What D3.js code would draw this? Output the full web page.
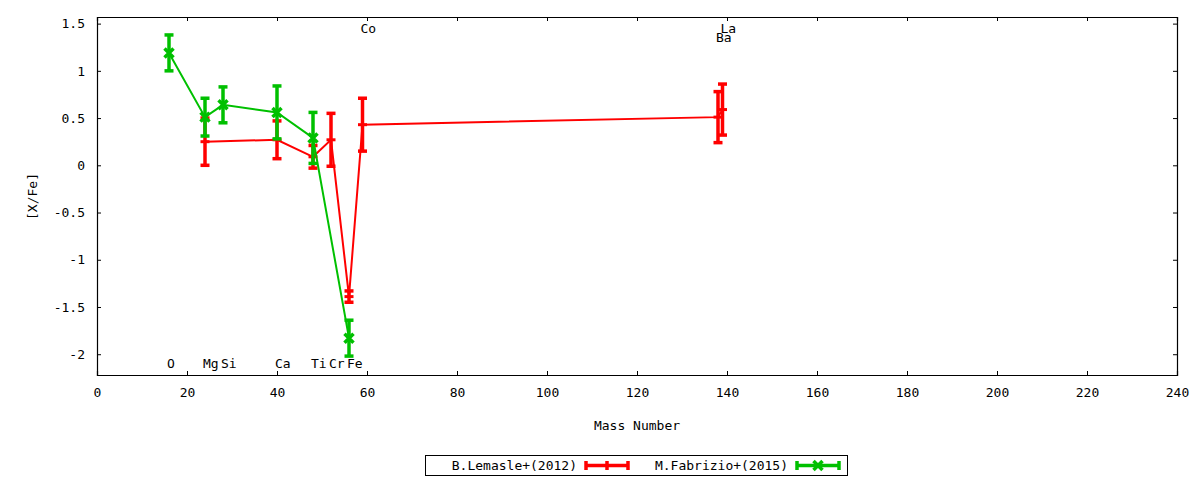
<!DOCTYPE html>
<html>
<head>
<meta charset="utf-8">
<script src="https://cdn.jsdelivr.net/npm/d3@7"></script>
<style>
  body { margin: 0; background: #fff; }
  text { font-family: "DejaVu Sans Mono", monospace; font-size: 13px; fill: #000; }
</style>
</head>
<body>
<svg id="chart"></svg>
<script>
// element labels along the plot
const elements = ["O", "Mg", "Si", "Ca", "Ti", "Cr", "Fe", "Co", "Ba", "La"];
const massNumbers = [16, 24, 28, 40, 48, 52, 56, 59, 138, 139];
const labelY = [-2.1, -2.1, -2.1, -2.1, -2.1, -2.1, -2.1, 1.45, 1.35, 1.45];

// B.Lemasle+(2012)
const lemasleElems = ["Mg", "Ca", "Ti", "Cr", "Fe", "Co", "Ba", "La"];
const lemasleVals = [0.25, 0.27, 0.09, 0.27, -1.39, 0.43, 0.51, 0.59];
const lemasleErrs = [0.25, 0.2, 0.12, 0.28, 0.06, 0.28, 0.27, 0.27];

// M.Fabrizio+(2015)
const fabrizioElems = ["O", "Mg", "Si", "Ca", "Ti", "Fe"];
const fabrizioVals = [1.19, 0.51, 0.64, 0.56, 0.29, -1.83];
const fabrizioErrs = [0.19, 0.2, 0.19, 0.28, 0.27, 0.19];

const xTicks = [0, 20, 40, 60, 80, 100, 120, 140, 160, 180, 200, 220, 240];
const yTicks = [-2, -1.5, -1, -0.5, 0, 0.5, 1, 1.5];

function mass(el) {
    return massNumbers[elements.indexOf(el)];
}

function drawChart() {
    var svgWidth = 1200, svgHeight = 480;
    var margin = { top: 17, right: 23, bottom: 105, left: 97 };
    var width = svgWidth - margin.left - margin.right;
    var height = svgHeight - margin.top - margin.bottom;

    var svg = d3.select("#chart")
        .attr("width", svgWidth)
        .attr("height", svgHeight);

    var g = svg.append("g")
        .attr("transform", "translate(" + margin.left + "," + margin.top + ")");

    var x = d3.scaleLinear().domain([0, 240]).range([0, width]);
    var y = d3.scaleLinear().domain([-2.22, 1.57]).range([height, 0]);

    // axes, ticks pointing inward, mirrored on top and right
    g.append("g")
        .attr("transform", "translate(0," + height + ")")
        .call(d3.axisBottom(x).tickValues(xTicks).tickSize(-4).tickPadding(13).tickFormat(d3.format("d")));
    g.append("g")
        .call(d3.axisTop(x).tickValues(xTicks).tickSize(-4).tickFormat(""));
    g.append("g")
        .call(d3.axisLeft(y).tickValues(yTicks).tickSize(-4).tickPadding(12).tickFormat(d => d));
    g.append("g")
        .attr("transform", "translate(" + width + ",0)")
        .call(d3.axisRight(y).tickValues(yTicks).tickSize(-4).tickFormat(""));

    g.selectAll(".domain").attr("stroke", "#000").attr("stroke-width", 1.2);
    g.selectAll(".tick line").attr("stroke", "#000");
    g.selectAll(".tick text").style("font-family", "DejaVu Sans Mono").style("font-size", "13px");

    // axis titles
    svg.append("text")
        .attr("x", margin.left + width / 2)
        .attr("y", 430)
        .attr("text-anchor", "middle")
        .text("Mass Number");
    svg.append("text")
        .attr("transform", "translate(37," + (margin.top + y(-0.33)) + ") rotate(-90)")
        .attr("text-anchor", "middle")
        .text("[X/Fe]");

    // element labels
    g.selectAll(".elabel")
        .data(elements)
        .enter().append("text")
        .attr("class", "elabel")
        .attr("x", (d, i) => x(massNumbers[i]) - 2)
        .attr("y", (d, i) => y(labelY[i]))
        .attr("dy", "0.35em")
        .text(d => d);

    function series(elems, vals, errs, color, marker) {
        var pts = elems.map((e, i) => ({ m: mass(e), v: vals[i], e: errs[i] }));
        var line = d3.line().x(d => x(d.m)).y(d => y(d.v));
        var s = g.append("g");

        s.append("path")
            .datum(pts)
            .attr("fill", "none")
            .attr("stroke", color)
            .attr("stroke-width", 2)
            .attr("d", line);

        var bars = s.selectAll(".bar").data(pts).enter().append("g");
        bars.append("line")
            .attr("x1", d => x(d.m)).attr("x2", d => x(d.m))
            .attr("y1", d => y(d.v - d.e)).attr("y2", d => y(d.v + d.e))
            .attr("stroke", color).attr("stroke-width", 3.5);
        [-1, 1].forEach(function (sign) {
            bars.append("line")
                .attr("x1", d => x(d.m) - 4.5).attr("x2", d => x(d.m) + 4.5)
                .attr("y1", d => y(d.v + sign * d.e)).attr("y2", d => y(d.v + sign * d.e))
                .attr("stroke", color).attr("stroke-width", 3.5);
        });

        if (marker == "plus") {
            bars.append("line")
                .attr("x1", d => x(d.m) - 4.5).attr("x2", d => x(d.m) + 4.5)
                .attr("y1", d => y(d.v)).attr("y2", d => y(d.v))
                .attr("stroke", color).attr("stroke-width", 3);
        } else {
            bars.append("path")
                .attr("d", d => {
                    var cx = x(d.m), cy = y(d.v), r = 4.5;
                    return "M" + (cx - r) + "," + (cy - r) + "L" + (cx + r) + "," + (cy + r) +
                        "M" + (cx - r) + "," + (cy + r) + "L" + (cx + r) + "," + (cy - r);
                })
                .attr("stroke", color).attr("stroke-width", 3.5);
        }
    }

    series(lemasleElems, lemasleVals, lemasleErrs, "#ff0000", "plus");
    series(fabrizioElems, fabrizioVals, fabrizioErrs, "#00c000", "cross");

    // legend
    var lg = svg.append("g");
    lg.append("rect")
        .attr("x", 425.5).attr("y", 455.5).attr("width", 422).attr("height", 20)
        .attr("fill", "none").attr("stroke", "#000");

    var legendItems = [
        { name: "B.Lemasle+(2012)", color: "#ff0000", tx: 577, lx: 586, marker: "plus" },
        { name: "M.Fabrizio+(2015)", color: "#00c000", tx: 788, lx: 797, marker: "cross" }
    ];
    legendItems.forEach(function (it) {
        var ly = 465.5;
        lg.append("text")
            .attr("x", it.tx).attr("y", ly).attr("dy", "0.35em")
            .attr("text-anchor", "end")
            .text(it.name);
        lg.append("line")
            .attr("x1", it.lx).attr("x2", it.lx + 42).attr("y1", ly).attr("y2", ly)
            .attr("stroke", it.color).attr("stroke-width", 3.5);
        [it.lx, it.lx + 42].forEach(function (cx) {
            lg.append("line")
                .attr("x1", cx).attr("x2", cx).attr("y1", ly - 4.5).attr("y2", ly + 4.5)
                .attr("stroke", it.color).attr("stroke-width", 3.5);
        });
        var mx = it.lx + 21;
        if (it.marker == "plus") {
            lg.append("line")
                .attr("x1", mx).attr("x2", mx).attr("y1", ly - 4.5).attr("y2", ly + 4.5)
                .attr("stroke", it.color).attr("stroke-width", 3.5);
        } else {
            lg.append("path")
                .attr("d", "M" + (mx - 4.5) + "," + (ly - 4.5) + "L" + (mx + 4.5) + "," + (ly + 4.5) +
                    "M" + (mx - 4.5) + "," + (ly + 4.5) + "L" + (mx + 4.5) + "," + (ly - 4.5))
                .attr("stroke", it.color).attr("stroke-width", 3.5);
        }
    });
}

drawChart();
</script>
</body>
</html>
